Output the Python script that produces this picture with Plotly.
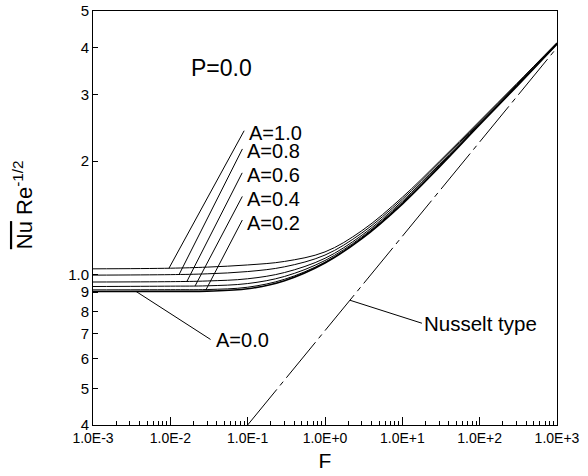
import numpy as np
import plotly.graph_objects as go

# ---- data ----
F = [1e-3, 1e-2, 3e-2, 1e-1, 3e-1, 1, 3, 10, 30, 100, 300, 1000]
curve_labels = ["A=1.0", "A=0.8", "A=0.6", "A=0.4", "A=0.2", "A=0.0"]
nu_a10 = [1.037, 1.041, 1.048, 1.062, 1.085, 1.150, 1.309, 1.605, 1.996, 2.556, 3.208, 4.126]
nu_a08 = [0.998, 1.001, 1.006, 1.020, 1.050, 1.128, 1.291, 1.586, 1.977, 2.540, 3.193, 4.115]
nu_a06 = [0.957, 0.959, 0.963, 0.976, 1.014, 1.106, 1.273, 1.567, 1.957, 2.523, 3.176, 4.101]
nu_a04 = [0.931, 0.933, 0.935, 0.948, 0.990, 1.091, 1.260, 1.554, 1.943, 2.511, 3.165, 4.094]
nu_a02 = [0.912, 0.913, 0.914, 0.927, 0.973, 1.080, 1.252, 1.544, 1.933, 2.503, 3.156, 4.086]
nu_a00 = [0.903, 0.904, 0.905, 0.918, 0.965, 1.075, 1.247, 1.540, 1.929, 2.498, 3.153, 4.084]
nusselt_F = [0.1, 1000]
nusselt_nu = [0.4, 4.0]

x_tickvals = [1e-3, 1e-2, 1e-1, 1e0, 1e1, 1e2, 1e3]
x_ticktext = ["1.0E-3", "1.0E-2", "1.0E-1", "1.0E+0", "1.0E+1", "1.0E+2", "1.0E+3"]
y_tickvals = [0.4, 0.5, 0.6, 0.7, 0.8, 0.9, 1.0, 2, 3, 4, 5]
y_ticktext = ["4", "5", "6", "7", "8", "9", "1.0", "2", "3", "4", "5"]

# label leader positions: F where leader touches curve, pixel offset to label
label_F = [0.0096, 0.0130, 0.0164, 0.0209, 0.029, 0.0036]
label_off = [(76, -139), (64, -127), (56, -110), (48, -91), (37, -71), (76, 49)]
label_text_dy = [4, 4, 4, 4, 4, 0]
nusselt_label_F = 2.1

series = [nu_a10, nu_a08, nu_a06, nu_a04, nu_a02, nu_a00]
FONT = "Liberation Sans, Arial, sans-serif"

fig = go.Figure()
for name, vals in zip(curve_labels, series):
    fig.add_trace(go.Scatter(
        x=F, y=vals, mode="lines", name=name,
        line=dict(color="black", width=1.6 if name == "A=0.0" else 1, shape="spline", smoothing=1.0),
        showlegend=False))
fig.add_trace(go.Scatter(
    x=nusselt_F, y=nusselt_nu, mode="lines", name="Nusselt type",
    line=dict(color="black", width=1, dash="46px,5px,5px,5px"), showlegend=False))

def interp_log(fx, xs, ys):
    return float(np.interp(np.log10(fx), np.log10(xs), np.log10(ys)))

annotations = []
for name, vals, fx, (ax, ay), dy in zip(curve_labels, series, label_F, label_off, label_text_dy):
    hx, hy = np.log10(fx), interp_log(fx, F, vals)
    # leader line
    annotations.append(dict(
        x=hx, y=hy, xref="x", yref="y", text="", showarrow=True, arrowhead=0,
        arrowwidth=1, arrowcolor="black", ax=ax, ay=ay, standoff=0, startstandoff=0))
    # label text
    annotations.append(dict(
        x=hx, y=hy, xref="x", yref="y", text=name, showarrow=False,
        xanchor="left", yanchor="middle", xshift=ax + 2, yshift=-ay - dy,
        font=dict(family=FONT, size=20, color="black")))
annotations.append(dict(
    x=np.log10(nusselt_label_F), y=interp_log(nusselt_label_F, nusselt_F, nusselt_nu),
    xref="x", yref="y", text="Nusselt type", showarrow=True, arrowhead=0,
    arrowwidth=1, arrowcolor="black", ax=72, ay=23, xanchor="left", yanchor="middle",
    font=dict(family=FONT, size=20.5, color="black")))
annotations.append(dict(
    x=0.278, y=0.862, xref="paper", yref="paper", text="P=0.0", showarrow=False,
    xanchor="center", yanchor="middle", font=dict(family=FONT, size=23, color="black")))
annotations.append(dict(
    x=-0.152, y=0.532, xref="paper", yref="paper",
    text="<span style='text-decoration:overline'>Nu</span> Re<sup>-1/2</sup>",
    textangle=-90, showarrow=False, xanchor="center", yanchor="middle",
    font=dict(family=FONT, size=22, color="black")))

minor_x = [k * 10.0 ** e for e in range(-3, 3) for k in range(2, 10)]

fig.update_layout(
    width=588, height=476,
    margin=dict(l=93, r=31, t=11, b=51, autoexpand=False),
    paper_bgcolor="white", plot_bgcolor="white",
    font=dict(family=FONT, color="black"),
    annotations=annotations,
    xaxis=dict(
        type="log", range=[-3.0001, 3.0001], tickvals=x_tickvals, ticktext=x_ticktext,
        automargin=False, ticklabeloverflow="allow",
        ticks="inside", ticklen=8, tickcolor="black", tickwidth=1,
        showline=True, linecolor="black", linewidth=1, mirror=True,
        showgrid=False, zeroline=False,
        tickfont=dict(family=FONT, size=14, color="black"),
        minor=dict(tickvals=minor_x, ticks="inside", ticklen=4, tickcolor="black", showgrid=False),
        title=dict(text="F", font=dict(family=FONT, size=21, color="black"), standoff=8)),
    yaxis=dict(
        type="log", range=[np.log10(0.4) - 1e-4, np.log10(5) + 1e-4],
        tickvals=y_tickvals, ticktext=y_ticktext,
        automargin=False, ticklabeloverflow="allow",
        ticks="inside", ticklen=5, tickcolor="black", tickwidth=1,
        showline=True, linecolor="black", linewidth=1, mirror=True,
        showgrid=False, zeroline=False,
        tickfont=dict(family=FONT, size=15, color="black")),
)

fig.write_html("out.html", config={"displayModeBar": False},
               post_script="document.body.style.margin='0';")
